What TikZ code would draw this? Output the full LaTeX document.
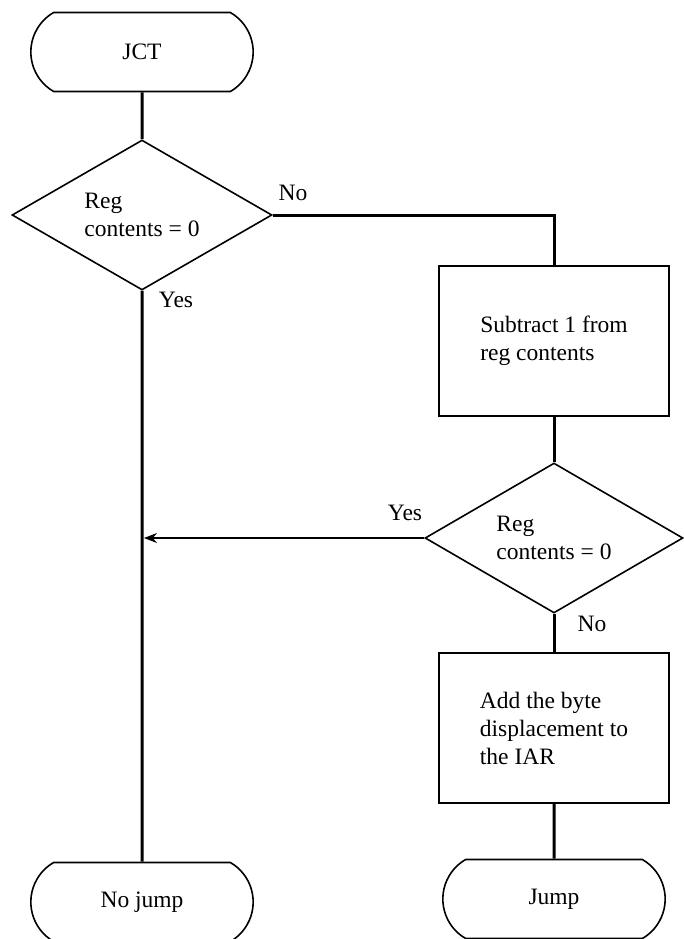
\documentclass[tikz,border=0pt]{standalone}
\usepackage{fontspec}
\setmainfont{Liberation Serif}
\usetikzlibrary{shapes.geometric,shapes.misc,arrows.meta}
\begin{document}
\begin{tikzpicture}[
    x=1pt, y=-1pt,
    txt/.style={font=\fontsize{23.5}{28}\selectfont},
    terminal/.style={txt, draw, line width=1.6pt, rounded rectangle,
        rounded rectangle arc length=120, minimum width=229pt, minimum height=79pt},
    decision/.style={txt, draw, line width=1.6pt, diamond, aspect=1.75,
        minimum width=260pt, minimum height=150pt, align=left, inner sep=2pt},
    process/.style={txt, draw, line width=1.6pt, rectangle,
        minimum width=230pt, minimum height=150pt, align=left},
    flow/.style={line width=3pt},
    back/.style={line width=1.2pt, -{Stealth[length=13pt,width=10pt]}, shorten >=2pt},
    annot/.style={txt},
]

% ---- coordinates ----
\def\LeftX{142}
\def\RightX{554}

\useasboundingbox (0,0) rectangle (683,939);

% ---- shapes ----
\node[terminal] (jct)    at (\LeftX,52)  {JCT};
\node[decision] (test1)  at (\LeftX,215) {Reg\\contents = 0};
\node[process]  (sub)    at (\RightX,341) {Subtract 1 from\\reg contents};
\node[decision, minimum width=258pt] (test2) at (\RightX,538) {Reg\\contents = 0};
\node[process]  (add)    at (\RightX,728) {Add the byte\\displacement to\\the IAR};
\node[terminal] (nojump) at (\LeftX,902) {No jump};
\node[terminal] (jump)   at (\RightX,899) {Jump};
\coordinate (merge) at (\LeftX,538);

% ---- connectors ----
\draw[flow] (jct) -- (test1);
\draw[flow] (test1.east) -| (sub.north);
\draw[flow] (test1) -- (nojump);
\draw[flow] (sub) -- (test2);
\draw[flow] (test2) -- (add);
\draw[flow] (add) -- (jump);
\draw[back] (test2.west) -- (merge);

% ---- labels ----
\node[annot] (no1)  at (293,193) {No};
\node[annot] (yes1) at (176,300) {Yes};
\node[annot] (yes2) at (405,513) {Yes};
\node[annot] (no2)  at (592,624) {No};

\end{tikzpicture}
\end{document}
